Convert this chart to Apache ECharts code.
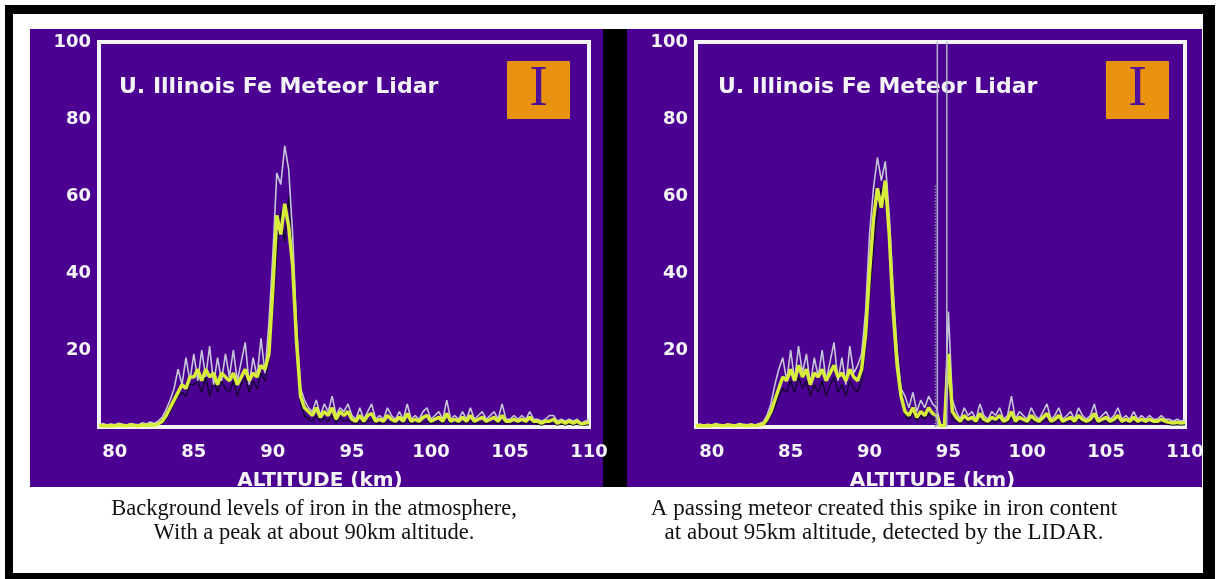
<!DOCTYPE html>
<html>
<head>
<meta charset="utf-8">
<script src="https://cdn.jsdelivr.net/npm/echarts@6/dist/echarts.min.js"></script>
<style>
html,body{margin:0;padding:0;background:#fff;}
#chart{width:1220px;height:579px;}
</style>
</head>
<body>
<div id="chart"></div>
<script>
// Altitude samples (km)
const ALT = [79,79.25,79.5,79.75,80,80.25,80.5,80.75,81,81.25,81.5,81.75,82,82.25,82.5,82.75,83,83.25,83.5,83.75,84,84.25,84.5,84.75,85,85.25,85.5,85.75,86,86.25,86.5,86.75,87,87.25,87.5,87.75,88,88.25,88.5,88.75,89,89.25,89.5,89.75,90,90.25,90.5,90.75,91,91.25,91.5,91.75,92,92.25,92.5,92.75,93,93.25,93.5,93.75,94,94.25,94.5,94.75,95,95.25,95.5,95.75,96,96.25,96.5,96.75,97,97.25,97.5,97.75,98,98.25,98.5,98.75,99,99.25,99.5,99.75,100,100.25,100.5,100.75,101,101.25,101.5,101.75,102,102.25,102.5,102.75,103,103.25,103.5,103.75,104,104.25,104.5,104.75,105,105.25,105.5,105.75,106,106.25,106.5,106.75,107,107.25,107.5,107.75,108,108.25,108.5,108.75,109,109.25,109.5,109.75,110];

// Left panel: background iron layer
const LEFT_GRAY = [0.6,0.9,0.5,0.8,0.6,1.0,0.7,0.5,0.9,0.7,0.6,1.1,0.8,1.3,0.9,1.6,
  2.5,4.5,7,10,15,11,18,12,
  19,12,20,13,21,11,18,12,19,13,20,12,17,22,11,18,13,23,14,27,
  45,66,63,73,67,50,26,10,
  7,5,4,7,3,6,4,8,3,5,4,6,
  3,2,5,2,4,6,2,3,2,5,3,2,4,2,6,2,3,2,4,5,2,3,4,2,7,2,3,2,4,2,5,2,3,4,2,3,4,2,6,2,2,3,2,3,2,4,2,2,1.5,2,3,3,1.5,2,1.5,2,1.5,2,1,1.5,2];
const LEFT_YELLOW = [0.3,0.4,0.3,0.4,0.3,0.5,0.4,0.3,0.5,0.4,0.3,0.5,0.4,0.6,0.5,0.8,
  1.5,3,5,7,9,11,10,13,
  13,15,12,15,13,14,11,14,13,12,14,11,13,15,12,14,13,16,15,19,
  36,55,50,58,52,42,22,8,
  5,4,3,5,2.5,4,3,5,2,4,3,4,
  2,1.5,3,1.5,3,3.5,1.5,2,1.5,3,2,1.5,2.5,1.5,3.5,1.5,2,1.5,2.5,3,1.5,2,2.5,1.5,3.5,1.5,2,1.5,2.5,1.5,3,1.5,2,2.5,1.5,2,2.5,1.5,3,1.5,1.5,2,1.5,2,1.5,2.5,1.5,1.5,1,1.5,1.5,2,1,1.5,1,1.5,1,1.5,0.8,1,1.2];
const LEFT_BLACK = [0.2,0.3,0.2,0.3,0.2,0.4,0.3,0.2,0.4,0.3,0.2,0.4,0.3,0.5,0.4,0.6,
  1,2,4,6,8,9,8,11,
  11,12,9,13,8,12,9,12,10,9,12,8,11,13,9,12,10,14,12,17,
  30,45,56,48,60,44,30,6,
  3,2,1.5,3,1.5,2.5,1.5,3,1,2.5,1.5,2,
  1,0.8,1.5,0.8,1.5,2,0.8,1,0.8,1.5,1,0.8,1.2,0.8,1.8,0.8,1,0.8,1.2,1.5,0.8,1,1.2,0.8,1.8,0.8,1,0.8,1.2,0.8,1.5,0.8,1,1.2,0.8,1,1.2,0.8,1.5,0.8,0.8,1,0.8,1,0.8,1.2,0.8,0.8,0.5,0.8,0.8,1,0.5,0.8,0.5,0.8,0.5,0.8,0.4,0.5,0.6];

// Right panel: with meteor trail
const RIGHT_GRAY = [0.5,0.8,0.4,0.7,0.5,0.9,0.6,0.4,0.8,0.6,0.5,0.9,0.7,0.6,0.8,0.5,0.9,1.2,
  3,6,11,15,18,12,
  20,12,21,14,19,11,18,13,20,12,17,22,12,18,11,21,14,16,
  19,30,50,62,
  70,64,69,55,
  36,20,10,
  8,5,9,4,7,5,8,6,5,
  0.5,0.5,
  30,
  7,
  4,2,5,3,4,2,6,3,2,4,3,5,2,3,8,2,4,3,2,5,3,2,4,6,2,3,5,2,3,4,2,5,3,2,3,6,2,3,4,2,3,5,2,3,2,4,2,3,2,3,2,2,3,2,2,1.5,2,1.5,2];
const RIGHT_YELLOW = [0.3,0.4,0.3,0.4,0.3,0.5,0.4,0.3,0.5,0.4,0.3,0.5,0.4,0.3,0.5,0.3,0.5,0.7,
  2,4,7,10,13,12,
  15,12,16,13,15,11,14,13,15,12,14,16,13,14,12,15,13,12,
  15,24,40,54,
  62,57,64,50,
  30,16,8,
  4,3,5,2.5,4,3,5,3.5,3,
  0.3,0.3,
  19,
  4,
  2.5,1.5,3,2,2.5,1.5,3.5,2,1.5,2.5,2,3,1.5,2,4,1.5,2.5,2,1.5,3,2,1.5,2.5,3.5,1.5,2,3,1.5,2,2.5,1.5,3,2,1.5,2,3.5,1.5,2,2.5,1.5,2,3,1.5,2,1.5,2.5,1.5,2,1.5,2,1.5,1.5,2,1.5,1.2,1,1.2,1,1.2];
const RIGHT_BLACK = [0.2,0.3,0.2,0.3,0.2,0.4,0.3,0.2,0.4,0.3,0.2,0.4,0.3,0.2,0.4,0.2,0.4,0.5,
  1,3,5,8,10,9,
  12,9,13,10,12,8,11,9,12,8,11,13,9,11,8,12,10,9,
  12,20,34,46,
  56,62,58,52,
  38,22,12,
  3,2,3.5,1.5,3,2,3.5,2,2,
  0.2,0.2,
  12,
  2,
  1.5,0.8,2,1,1.5,0.8,2,1,0.8,1.5,1,2,0.8,1,2.5,0.8,1.5,1,0.8,2,1,0.8,1.5,2,0.8,1,2,0.8,1,1.5,0.8,2,1,0.8,1,2,0.8,1,1.5,0.8,1,2,0.8,1,0.8,1.5,0.8,1,0.8,1,0.8,0.8,1,0.8,0.6,0.5,0.6,0.5,0.6];

// Meteor trail traces (go off the top of the scale)
const METEOR_ALT = [94.3, 94.3, 94.9, 94.9];
const METEOR_FE = [0, 130, 130, 0];
const METEOR_DARK_ALT = [94.18, 94.18];
const METEOR_DARK_FE = [0, 63];

const X_TICKS = [80, 85, 90, 95, 100, 105, 110];
const Y_TICKS = [20, 40, 60, 80, 100];

const TITLE = 'U. Illinois Fe Meteor Lidar';
const X_NAME = 'ALTITUDE (km)';
const CAPTION_LEFT = ['Background levels of iron in the atmosphere,', 'With a peak at about 90km altitude.'];
const CAPTION_RIGHT = ['A passing meteor created this spike in iron content', 'at about 95km altitude, detected by the LIDAR.'];

const PURPLE = '#4B0091';
const WHITE = '#F4F4F8';
const LABEL_FONT = 'DejaVu Sans';

function pairs(xs, ys){ return xs.map((x,i)=>[x, ys[i]]); }

function xAxis(gi, shift){
  return {
    type:'value', gridIndex:gi, min:79, max:110, interval:1,
    axisLine:{show:false}, axisTick:{show:false}, splitLine:{show:false},
    axisLabel:{color:WHITE, fontFamily:LABEL_FONT, fontWeight:'bold', fontSize:18, margin:16,
      formatter:v=> X_TICKS.indexOf(v) >= 0 ? String(v) : ''},
    name:X_NAME, nameLocation:'middle', nameGap:44,
    nameTextStyle:{color:WHITE, fontFamily:LABEL_FONT, fontWeight:'bold', fontSize:20, padding:[0, shift, 0, 0]}
  };
}
function yAxis(gi){
  return {
    type:'value', gridIndex:gi, min:0, max:100, interval:20,
    axisLine:{show:false}, axisTick:{show:false}, splitLine:{show:false},
    axisLabel:{color:WHITE, fontFamily:LABEL_FONT, fontWeight:'bold', fontSize:18, margin:8,
      formatter:v=> Y_TICKS.indexOf(v) >= 0 ? String(v) : ''}
  };
}
function trace(gi, ys, color, width, type){
  return {type:'line', xAxisIndex:gi, yAxisIndex:gi, data:pairs(ALT, ys), showSymbol:false,
    symbol:'none', clip:true, lineStyle:{color:color, width:width, type:type||'solid'}, silent:true};
}

const chart = echarts.init(document.getElementById('chart'), null, {renderer:'canvas'});

function panelGraphics(px, pw, titleX, boxX){
  return [
    {type:'rect', z:-10, shape:{x:px, y:29, width:pw, height:458}, style:{fill:PURPLE}},
    {type:'text', z:1, x:titleX, y:87, style:{text:TITLE, font:'bold 22px "DejaVu Sans"', fill:WHITE, textAlign:'left', textVerticalAlign:'middle'}},
    {type:'rect', z:1, shape:{x:boxX, y:61, width:63, height:58, r:1}, style:{fill:'#E8920E'}},
    {type:'text', z:1, x:boxX+31.5, y:90, style:{text:'I', font:'normal 56px "Liberation Serif"', fill:'#50109A', textAlign:'center', textVerticalAlign:'middle'}}
  ];
}
function caption(cx, lines, size, gap){
  return lines.map((t,i)=>({type:'text', z:101, x:cx, y:509 + i*gap,
    style:{text:t, font:'normal ' + size + 'px "Liberation Serif"', fill:'#111', textAlign:'center', textVerticalAlign:'middle'}}));
}

const graphics = [
  {type:'rect', z:-20, shape:{x:5, y:5, width:1210, height:580}, style:{fill:'#000'}},
  {type:'rect', z:-19, shape:{x:13, y:14, width:1190, height:559}, style:{fill:'#fff'}},
  {type:'rect', z:-10, shape:{x:603, y:29, width:24, height:458}, style:{fill:'#000'}},
  ...panelGraphics(30, 573, 119, 507),
  ...panelGraphics(627, 575, 718, 1106),
  {type:'rect', z:100, shape:{x:13, y:487, width:1190, height:86}, style:{fill:'#fff'}},
  ...caption(314, CAPTION_LEFT, 22.5, 24),
  ...caption(884, CAPTION_RIGHT, 23, 24)
];

const option = {
  animation:false,
  backgroundColor:'#fff',
  grid:[
    {left:99, top:42, width:490, height:385, show:true, borderColor:WHITE, borderWidth:4, backgroundColor:'transparent'},
    {left:696, top:42, width:489, height:385, show:true, borderColor:WHITE, borderWidth:4, backgroundColor:'transparent'}
  ],
  xAxis:[xAxis(0, 48), xAxis(1, 16)],
  yAxis:[yAxis(0), yAxis(1)],
  graphic:{elements:graphics},
  series:[
    trace(0, LEFT_BLACK, '#10082A', 1.3),
    trace(0, LEFT_GRAY, '#C6C6D8', 1.6),
    trace(0, LEFT_YELLOW, '#D8EC3A', 3.5),
    trace(1, RIGHT_BLACK, '#10082A', 1.3),
    trace(1, RIGHT_GRAY, '#C6C6D8', 1.6),
    trace(1, RIGHT_YELLOW, '#D8EC3A', 3.5),
    {type:'line', xAxisIndex:1, yAxisIndex:1, data:pairs(METEOR_ALT, METEOR_FE), showSymbol:false, symbol:'none', clip:true,
      lineStyle:{color:'#B8B8CC', width:1.5}, silent:true},
    {type:'line', xAxisIndex:1, yAxisIndex:1, data:pairs(METEOR_DARK_ALT, METEOR_DARK_FE), showSymbol:false, symbol:'none', clip:true,
      lineStyle:{color:'#8E88A8', width:1.5, type:'dotted'}, silent:true}
  ]
};
chart.setOption(option);
</script>
</body>
</html>
